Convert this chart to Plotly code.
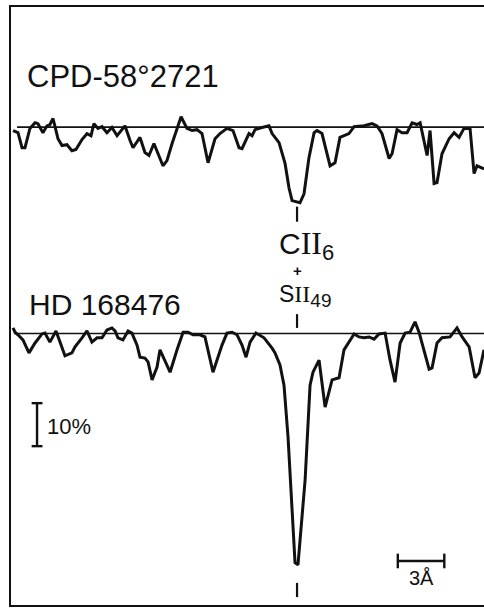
import numpy as np
import plotly.graph_objects as go

# ---- data: wavelength offset from C II 6 line (Angstrom), relative flux (%) ----
top_star = "CPD-58°2721"
bottom_star = "HD 168476"

top_wl = [-18.32, -18.0, -17.74, -17.55, -17.23, -16.90, -16.71, -16.39, -16.13, -15.94,
          -15.74, -15.42, -15.16, -14.84, -14.52, -14.26, -13.87, -13.55, -13.29, -13.10,
          -12.84, -12.58, -12.26, -11.94, -11.61, -11.10, -10.77, -10.58, -10.13, -9.81,
          -9.55, -9.23, -8.65, -8.39, -8.06, -7.48, -7.10, -6.77, -6.45, -6.13,
          -5.74, -5.29, -4.97, -4.52, -4.13, -3.74, -3.55, -3.10, -2.90, -2.71,
          -2.26, -1.81, -1.61, -1.16, -0.77, -0.52, -0.32, 0.19, 0.45, 0.77,
          1.10, 1.29, 1.61, 2.13, 2.45, 2.77, 3.35, 3.68, 4.32, 4.84,
          5.16, 5.48, 5.94, 6.13, 6.45, 6.77, 7.10, 7.42, 7.74, 7.94,
          8.39, 8.58, 8.84, 9.03, 9.35, 9.81, 10.13, 10.45, 10.77, 11.16,
          11.42, 11.61, 12.06]
top_flux = [99.2, 98.7, 95.2, 95.2, 99.7, 101.0, 100.8, 98.7, 100.3, 100.6,
            102.0, 97.3, 95.7, 95.9, 94.5, 94.8, 97.1, 98.5, 98.0, 100.8,
            99.7, 100.1, 98.7, 99.9, 98.0, 100.3, 96.9, 95.2, 97.6, 94.1,
            93.4, 96.2, 91.0, 92.2, 96.2, 102.4, 99.7, 99.2, 99.4, 98.5,
            91.7, 97.3, 98.5, 99.7, 99.2, 95.2, 95.0, 98.5, 98.0, 99.4,
            99.9, 100.3, 98.5, 96.4, 91.5, 85.9, 82.9, 82.4, 84.5, 92.9,
            98.7, 99.2, 98.5, 91.0, 91.7, 97.6, 98.5, 100.1, 100.3, 100.8,
            100.3, 98.5, 92.7, 93.8, 99.4, 98.7, 98.7, 101.0, 100.6, 101.0,
            93.4, 99.2, 86.9, 87.1, 93.8, 97.3, 98.7, 97.6, 99.7, 99.7,
            89.2, 91.0, 90.3]

bot_wl = [-18.32, -18.19, -18.0, -17.68, -17.29, -16.90, -16.45, -16.26, -15.94, -15.55,
          -15.29, -14.97, -14.52, -14.32, -13.87, -13.55, -13.23, -12.90, -12.58, -12.26,
          -11.94, -11.74, -11.55, -11.23, -10.90, -10.65, -10.32, -10.13, -9.81, -9.61,
          -9.35, -9.03, -8.84, -8.52, -8.19, -7.74, -7.35, -7.03, -6.71, -6.26,
          -5.94, -5.42, -4.84, -4.52, -4.19, -3.87, -3.55, -3.29, -3.03, -2.65,
          -2.13, -1.61, -1.42, -1.10, -0.84, -0.58, -0.32, -0.13, 0.06, 0.19,
          0.52, 0.84, 1.03, 1.42, 1.81, 2.26, 2.71, 3.03, 3.35, 3.68,
          4.0, 4.32, 4.65, 4.97, 5.29, 5.68, 6.0, 6.32, 6.65, 6.97,
          7.29, 7.61, 7.87, 8.19, 8.52, 8.71, 9.03, 9.35, 9.87, 10.32,
          10.65, 11.10, 11.48, 11.74, 12.06]
bot_flux = [101.3, 100.3, 99.7, 98.5, 95.5, 97.8, 99.9, 100.1, 98.0, 100.6,
            98.0, 94.8, 95.5, 96.9, 99.0, 100.6, 98.0, 99.0, 99.0, 100.8,
            101.3, 100.6, 99.0, 98.5, 100.6, 100.1, 97.3, 94.5, 94.3, 93.4,
            89.2, 92.2, 96.2, 93.8, 91.0, 96.2, 100.3, 100.3, 99.7, 99.7,
            99.2, 91.0, 97.3, 100.1, 100.3, 99.7, 97.3, 94.5, 98.0, 100.1,
            99.0, 96.6, 95.5, 92.7, 88.0, 75.9, 60.6, 46.7, 46.2, 51.3,
            65.9, 88.0, 91.0, 93.8, 82.9, 89.2, 89.7, 96.2, 98.0, 99.9,
            99.2, 99.0, 99.2, 98.7, 99.9, 100.1, 93.8, 88.7, 97.8, 100.1,
            100.3, 102.7, 100.3, 96.2, 91.7, 92.0, 97.8, 99.0, 99.2, 101.3,
            99.2, 96.9, 89.7, 90.8, 96.2]

top_offset = 48.0        # vertical shift of upper tracing (%)
continuum = 100.0
line_wl = 0.0            # C II 6 + S II 49 blend
scale_pct = 10.0
scale_ang = 3.0

x_range = [-19.16, 12.06]
y_range = [35.93, 177.56]

fig = go.Figure()
black = "#111111"

top_y = [f + top_offset for f in top_flux]

# continuum lines
fig.add_trace(go.Scatter(x=[-18.06, x_range[1]], y=[continuum + top_offset] * 2, mode="lines",
                         line=dict(color=black, width=1.7), hoverinfo="skip"))
fig.add_trace(go.Scatter(x=[-18.26, x_range[1]], y=[continuum] * 2, mode="lines",
                         line=dict(color=black, width=1.7), hoverinfo="skip"))
# spectra
fig.add_trace(go.Scatter(x=top_wl, y=top_y, mode="lines",
                         line=dict(color=black, width=3, shape="linear")))
fig.add_trace(go.Scatter(x=bot_wl, y=bot_flux, mode="lines",
                         line=dict(color=black, width=3, shape="linear")))

# line identification ticks
for y0, y1 in [(126.0, 129.5), (101.3, 104.5), (38.7, 42.0)]:
    fig.add_trace(go.Scatter(x=[line_wl, line_wl], y=[y0, y1], mode="lines",
                             line=dict(color=black, width=2.2), hoverinfo="skip"))

# 10% scale bar
bx = -16.77
by0 = 73.8
fig.add_trace(go.Scatter(x=[bx - 0.35, bx + 0.35, None, bx, bx, None, bx - 0.35, bx + 0.35],
                         y=[by0, by0, None, by0, by0 + scale_pct, None, by0 + scale_pct, by0 + scale_pct],
                         mode="lines", line=dict(color=black, width=2.4), hoverinfo="skip"))
# 3 A scale bar
sx0 = 6.5
sy = 47.1
fig.add_trace(go.Scatter(x=[sx0, sx0, None, sx0, sx0 + scale_ang, None, sx0 + scale_ang, sx0 + scale_ang],
                         y=[sy - 1.7, sy + 1.7, None, sy, sy, None, sy - 1.7, sy + 1.7],
                         mode="lines", line=dict(color=black, width=2.4), hoverinfo="skip"))

sans = "Liberation Sans"
serif = "Liberation Serif"
cii = ("C<span style='font-family:Liberation Serif;font-size:32px'>II</span>"
       "<sub><span style='font-size:22px'>6</span></sub>")
sii = ("S<span style='font-family:Liberation Serif;font-size:24px'>II</span>"
       "<sub><span style='font-size:19px'>49</span></sub>")
ann = [
    dict(x=-17.55, y=159.8, text=top_star, xanchor="left", yanchor="middle",
         font=dict(family=sans, size=31, color=black)),
    dict(x=-17.42, y=106.7, text=bottom_star, xanchor="left", yanchor="middle",
         font=dict(family=sans, size=30, color=black)),
    dict(x=-1.30, y=120.5, text=cii, xanchor="left", yanchor="middle",
         font=dict(family=sans, size=30, color=black)),
    dict(x=0.0, y=114.6, text="<b>+</b>", xanchor="center", yanchor="middle",
         font=dict(family=sans, size=15, color=black)),
    dict(x=-1.30, y=108.8, text=sii, xanchor="left", yanchor="middle",
         font=dict(family=sans, size=23, color=black)),
    dict(x=-16.26, y=78.3, text="10%", xanchor="left", yanchor="middle",
         font=dict(family=sans, size=22, color=black)),
    dict(x=8.0, y=43.1, text="3Å", xanchor="center", yanchor="middle",
         font=dict(family=sans, size=20, color=black)),
]
for a in ann:
    a.update(xref="x", yref="y", showarrow=False)
fig.update_layout(annotations=ann)

# frame (left, top, bottom)
fx = 10 / 484
fy_top = 1 - 6 / 609
fy_bot = 1 - 606 / 609
fig.add_shape(type="path", xref="paper", yref="paper",
              path=f"M 1 {fy_top} L {fx} {fy_top} L {fx} {fy_bot} L 1 {fy_bot}",
              line=dict(color=black, width=2))

fig.update_layout(
    width=484, height=609,
    margin=dict(l=0, r=0, t=0, b=0),
    paper_bgcolor="white", plot_bgcolor="white",
    showlegend=False,
    xaxis=dict(range=x_range, visible=False, fixedrange=True),
    yaxis=dict(range=y_range, visible=False, fixedrange=True),
)

fig.write_html("out.html")
